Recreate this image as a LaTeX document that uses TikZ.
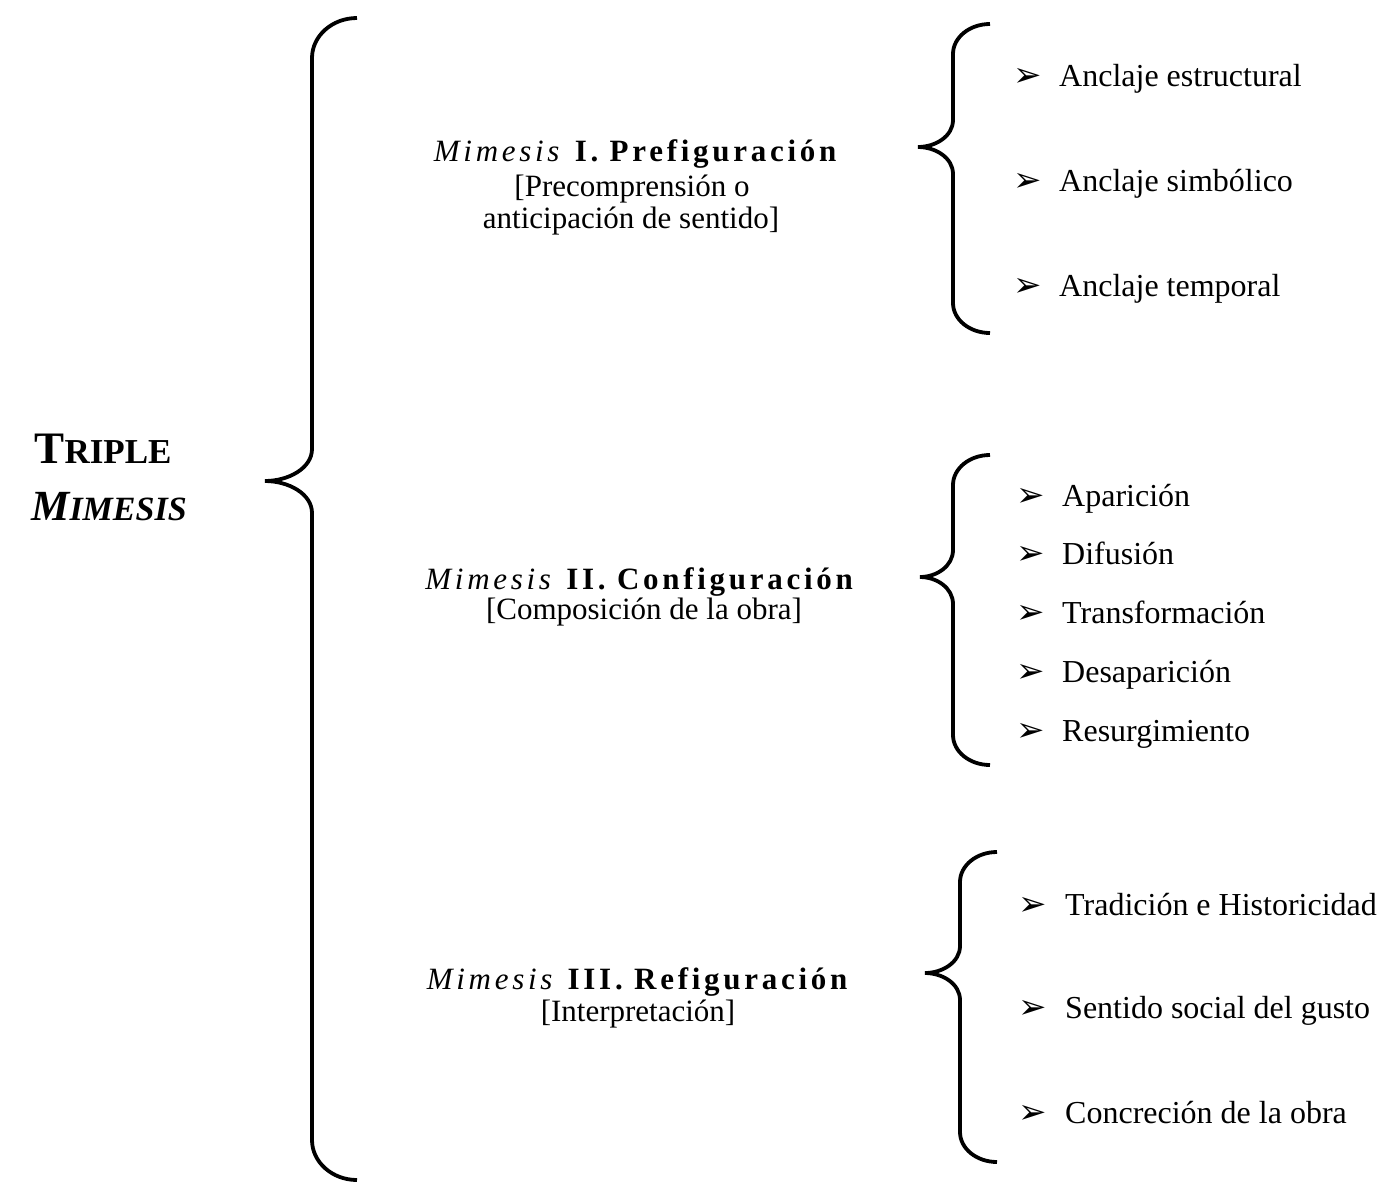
\documentclass[tikz,border=0pt]{standalone}
\usepackage{fontspec}
\setmainfont{Liberation Serif}
\newfontfamily\headfont[LetterSpace=12]{Liberation Serif}
\newfontfamily\symfont{DejaVu Sans}
\newcommand\drawbrace[8]{% E V P T M B h k
  \draw[bracestyle] (#1,#4) .. controls ({#1-0.552*(#1-#2)},#4) and (#2,{#4+0.448*#7}) .. (#2,{#4+#7})
    -- (#2,{#5-#8}) .. controls (#2,{#5-0.4*#8}) and ({#2-0.5*(#2-#3)},#5) .. (#3,#5)
    .. controls ({#2-0.5*(#2-#3)},#5) and (#2,{#5+0.4*#8}) .. (#2,{#5+#8})
    -- (#2,{#6-#7}) .. controls (#2,{#6-0.448*#7}) and ({#1-0.552*(#1-#2)},#6) .. (#1,#6);}
\begin{document}
\begin{tikzpicture}[x=1pt,y=-1pt,
  bracestyle/.style={line width=3.8pt, line cap=butt},
  item/.style={anchor=base west, inner sep=0pt, font=\fontsize{32}{38}\selectfont},
  bul/.style={anchor=base west, inner sep=0pt, font=\symfont\fontsize{34}{40}\selectfont},
  head/.style={anchor=base, inner sep=0pt, font=\headfont\fontsize{31}{36}\selectfont},
  sub/.style={anchor=base, inner sep=0pt, font=\fontsize{31}{37}\selectfont},
  big/.style={anchor=base, inner sep=0pt}]
\useasboundingbox (0,0) rectangle (1385,1184);
\fill[white] (0,0) rectangle (1385,1184);

% main label
\node[big, font=\bfseries] (triple) at (103,463) {\fontsize{45}{50}\selectfont T\fontsize{35}{40}\selectfont RIPLE};
\node[big, font=\bfseries\itshape] (mimesis) at (109,520) {\fontsize{43}{48}\selectfont M\fontsize{34}{38}\selectfont IMESIS};

% braces
\drawbrace{357}{312}{265}{18}{481}{1180}{40}{32}
\drawbrace{990}{953}{918}{24}{147}{333}{30}{27}
\drawbrace{990}{953}{920}{455}{577}{765}{30}{27}
\drawbrace{997}{960}{925}{852}{973}{1162}{30}{27}

% headings
\node[head] (h1) at (637,161) {\textit{Mimesis} \textbf{I. Prefiguración}};
\node[sub] (h1a) at (632,196) {[Precomprensión o};
\node[sub] (h1b) at (631,228) {anticipación de sentido]};
\node[head] (h2) at (641,589) {\textit{Mimesis} \textbf{II. Configuración}};
\node[sub] (h2a) at (644,619) {[Composición de la obra]};
\node[head] (h3) at (639,989) {\textit{Mimesis} \textbf{III. Refiguración}};
\node[sub] (h3a) at (638,1021) {[Interpretación]};

% items group 1
\node[bul] (b11) at (1013,86) {➢};
\node[item] (i11) at (1059,86) {Anclaje estructural};
\node[bul] (b12) at (1013,191) {➢};
\node[item] (i12) at (1059,191) {Anclaje simbólico};
\node[bul] (b13) at (1013,296) {➢};
\node[item] (i13) at (1059,296) {Anclaje temporal};

% items group 2
\node[bul] (b21) at (1016,506) {➢};
\node[item] (i21) at (1062,506) {Aparición};
\node[bul] (b22) at (1016,564) {➢};
\node[item] (i22) at (1062,564) {Difusión};
\node[bul] (b23) at (1016,623) {➢};
\node[item] (i23) at (1062,623) {Transformación};
\node[bul] (b24) at (1016,682) {➢};
\node[item] (i24) at (1062,682) {Desaparición};
\node[bul] (b25) at (1016,741) {➢};
\node[item] (i25) at (1062,741) {Resurgimiento};

% items group 3
\node[bul] (b31) at (1018,915) {➢};
\node[item] (i31) at (1065,915) {Tradición e Historicidad};
\node[bul] (b32) at (1018,1018) {➢};
\node[item] (i32) at (1065,1018) {Sentido social del gusto};
\node[bul] (b33) at (1018,1123) {➢};
\node[item] (i33) at (1065,1123) {Concreción de la obra};
\end{tikzpicture}
\end{document}
